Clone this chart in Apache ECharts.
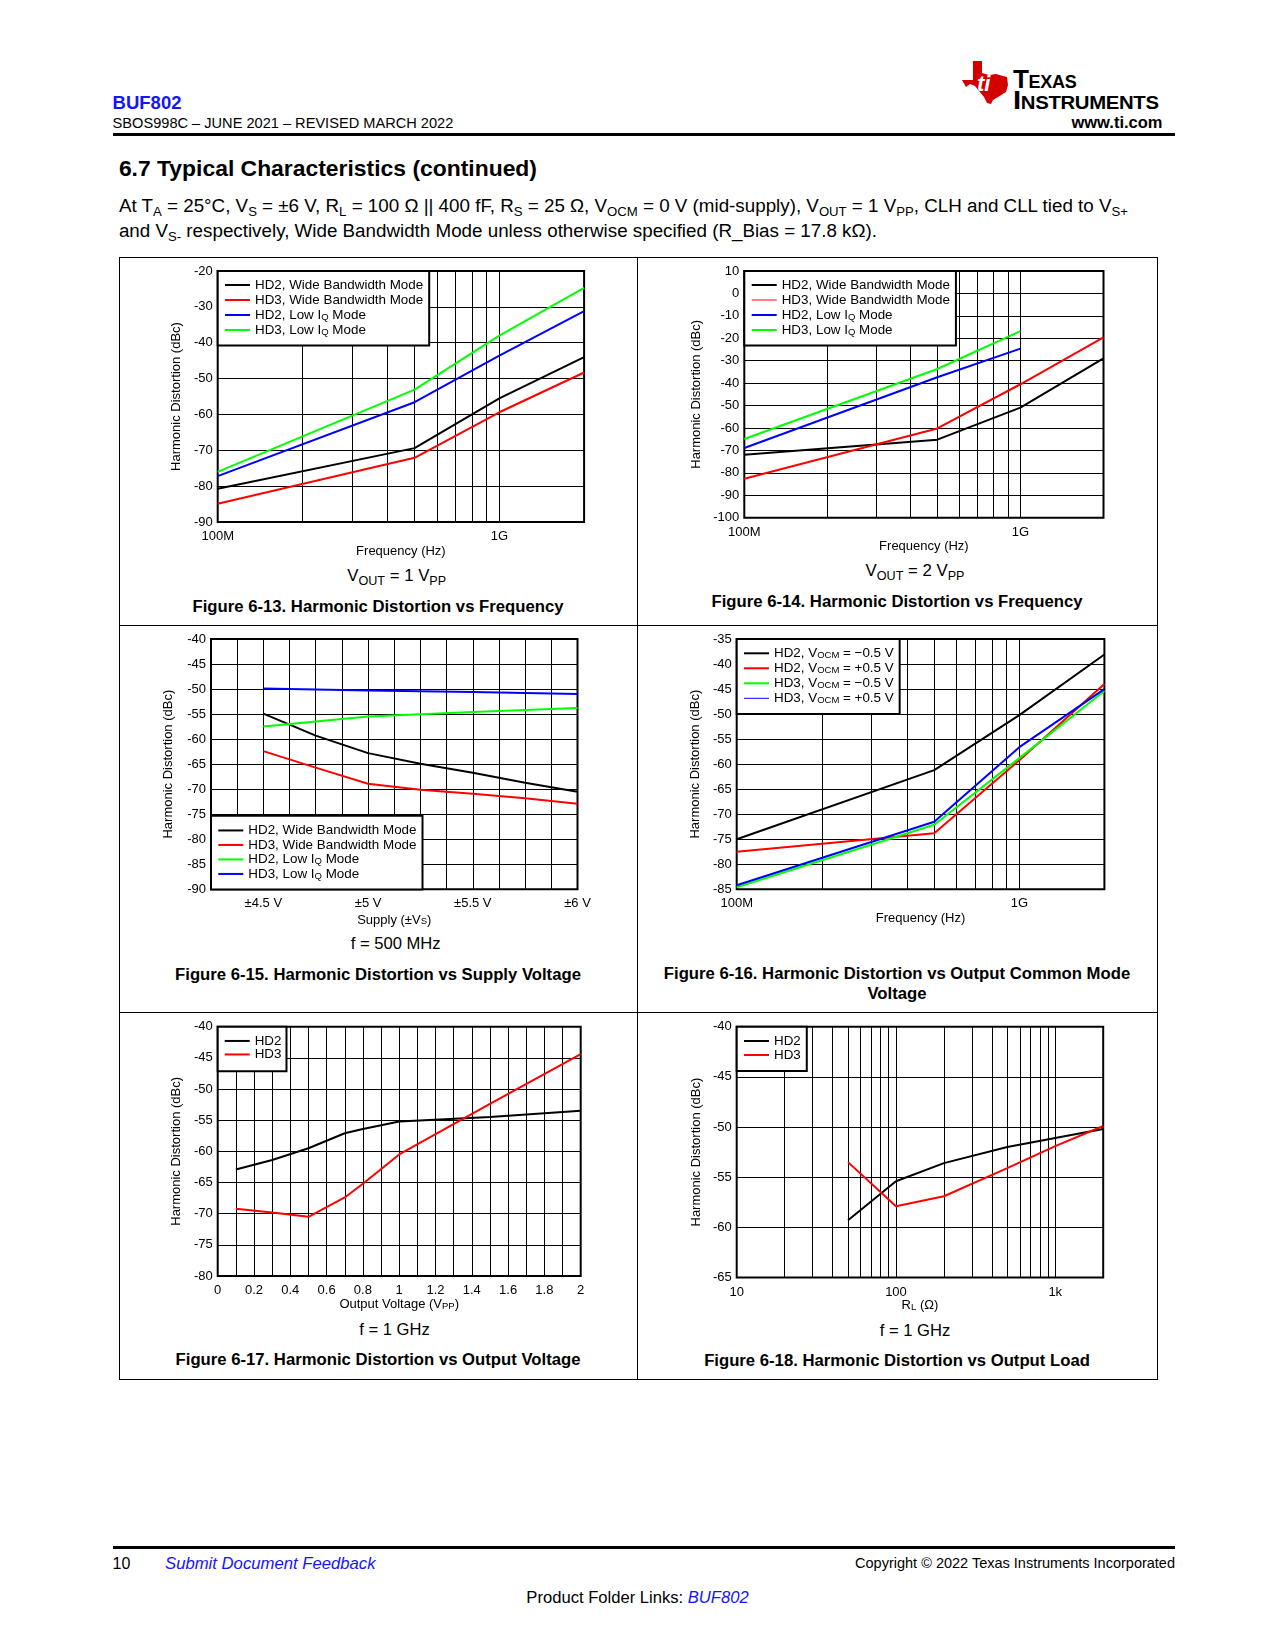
<!DOCTYPE html>
<html>
<head>
<meta charset="utf-8">
<script src="https://cdn.jsdelivr.net/npm/echarts/dist/echarts.min.js"></script>
<style>
html,body{margin:0;padding:0;background:#fff;}
body{width:1275px;height:1650px;position:relative;overflow:hidden;font-family:'Liberation Sans',Arial,Helvetica,sans-serif;color:#000;}
.t{position:absolute;white-space:nowrap;line-height:1;}
.b{font-weight:bold;}
.c{transform:translateX(-50%);}
.t sub{font-size:0.7em;vertical-align:-0.3em;line-height:0;}
.st sub{font-size:0.75em;}
.rule{position:absolute;background:#000;}
.chart{position:absolute;left:0;top:0;width:1275px;height:1650px;pointer-events:none;}
</style>
</head>
<body>
<!-- header -->
<div class="t b" style="left:112.6px;top:94px;font-size:18.5px;color:#1414ff">BUF802</div>
<div class="t" style="left:112.6px;top:116.4px;font-size:14.6px">SBOS998C – JUNE 2021 – REVISED MARCH 2022</div>
<svg style="position:absolute;left:962px;top:61px" width="46" height="43" viewBox="0 0 46 43">
  <path d="M11 0 H20 V12 L27 14 L34 13 L41 15 L45 16 L46 24 L44 31 L36 36 L31 39 L29 43 L25 42 L22 36 L17 30 L13 25 L8 23 L4 26 L0 19 L11 19 Z" fill="#d40000"/>
  <text x="15" y="30" font-family="Liberation Sans, Arial" font-weight="bold" font-style="italic" font-size="22" fill="#fff">ti</text>
</svg>
<div class="t b" style="left:1013px;top:66.3px;font-size:26px;font-variant:small-caps;letter-spacing:-0.3px">Texas</div>
<div class="t b" style="left:1013px;top:87.3px;font-size:26px;font-variant:small-caps;letter-spacing:-0.3px;transform:scaleX(1.13);transform-origin:0 50%">Instruments</div>
<div class="t b" style="right:112.5px;top:114.4px;font-size:16.5px">www.ti.com</div>
<div class="rule" style="left:112.6px;top:133px;width:1062.4px;height:3px"></div>

<div class="t b" style="left:118.9px;top:157px;font-size:22.9px">6.7 Typical Characteristics (continued)</div>
<div class="t" style="left:118.9px;top:196.8px;font-size:18.8px">At T<sub>A</sub> = 25°C, V<sub>S</sub> = ±6 V, R<sub>L</sub> = 100 Ω || 400 fF, R<sub>S</sub> = 25 Ω, V<sub>OCM</sub> = 0 V (mid-supply), V<sub>OUT</sub> = 1 V<sub>PP</sub>, CLH and CLL tied to V<sub>S+</sub></div>
<div class="t" style="left:118.9px;top:222.3px;font-size:18.8px">and V<sub>S-</sub> respectively, Wide Bandwidth Mode unless otherwise specified (R_Bias = 17.8 kΩ).</div>

<!-- figure box -->
<div style="position:absolute;left:118.9px;top:257px;width:1037.3px;height:1121px;border:1px solid #000;"></div>
<div class="rule" style="left:637px;top:257px;width:1px;height:1122px"></div>
<div class="rule" style="left:118.9px;top:625px;width:1038.3px;height:1px"></div>
<div class="rule" style="left:118.9px;top:1012px;width:1038.3px;height:1px"></div>

<!-- sub captions -->
<div class="t c st" style="left:396.7px;top:568.4px;font-size:16.8px">V<sub>OUT</sub> = 1 V<sub>PP</sub></div>
<div class="t c st" style="left:915px;top:563.4px;font-size:16.8px">V<sub>OUT</sub> = 2 V<sub>PP</sub></div>
<div class="t c st" style="left:395.7px;top:935.9px;font-size:16.6px">f = 500 MHz</div>
<div class="t c st" style="left:394.5px;top:1321.9px;font-size:16.6px">f = 1 GHz</div>
<div class="t c st" style="left:915px;top:1322.9px;font-size:16.6px">f = 1 GHz</div>

<!-- figure captions -->
<div class="t b c" style="left:378px;top:598.8px;font-size:16.7px">Figure 6-13. Harmonic Distortion vs Frequency</div>
<div class="t b c" style="left:897px;top:593.8px;font-size:16.7px">Figure 6-14. Harmonic Distortion vs Frequency</div>
<div class="t b c" style="left:378px;top:966.8px;font-size:16.7px">Figure 6-15. Harmonic Distortion vs Supply Voltage</div>
<div class="t b c" style="left:897px;top:965.8px;font-size:16.7px">Figure 6-16. Harmonic Distortion vs Output Common Mode</div>
<div class="t b c" style="left:897px;top:985.8px;font-size:16.7px">Voltage</div>
<div class="t b c" style="left:378px;top:1351.8px;font-size:16.7px">Figure 6-17. Harmonic Distortion vs Output Voltage</div>
<div class="t b c" style="left:897px;top:1352.8px;font-size:16.7px">Figure 6-18. Harmonic Distortion vs Output Load</div>

<!-- footer -->
<div class="rule" style="left:112.6px;top:1546px;width:1062.4px;height:3px"></div>
<div class="t" style="left:112.6px;top:1556.3px;font-size:16px">10</div>
<div class="t" style="left:165px;top:1556.2px;font-size:16.7px;font-style:italic;color:#1414ff">Submit Document Feedback</div>
<div class="t" style="right:100px;top:1556.3px;font-size:14.5px">Copyright © 2022 Texas Instruments Incorporated</div>
<div class="t c" style="left:637.5px;top:1589.9px;font-size:16.6px">Product Folder Links: <span style="font-style:italic;color:#1414ff">BUF802</span></div>

<script>
const FONT = "'Liberation Sans', Arial, Helvetica, sans-serif";

// ---------------- data ----------------
// Fig 6-13, VOUT = 1 VPP
const fig13Freq      = [1e8, 5e8, 1e9, 2e9];
const fig13HD2Wide   = [-80.7, -69.4, -55.5, -44.0];
const fig13HD3Wide   = [-84.9, -72.1, -59.4, -48.3];
const fig13HD2LowIQ  = [-77.2, -56.6, -43.6, -31.2];
const fig13HD3LowIQ  = [-76.0, -53.1, -38.0, -24.7];
// Fig 6-14, VOUT = 2 VPP
const fig14FreqWide  = [1e8, 5e8, 1e9, 2e9];
const fig14FreqLowIQ = [1e8, 5e8, 1e9];
const fig14HD2Wide   = [-71.9, -65.2, -50.9, -29.0];
const fig14HD3Wide   = [-82.6, -60.2, -40.5, -19.6];
const fig14HD2LowIQ  = [-68.9, -37.4, -24.6];
const fig14HD3LowIQ  = [-64.9, -33.7, -16.8];
// Fig 6-15, f = 500 MHz
const fig15SupplyWide  = [4.5, 4.75, 5.0, 5.25, 5.5, 5.75, 6.0];
const fig15HD2Wide     = [-54.9, -59.3, -62.8, -64.9, -66.7, -68.7, -70.5];
const fig15HD3Wide     = [-62.4, -65.7, -68.9, -70.1, -70.9, -71.8, -72.9];
const fig15SupplyLowIQ = [4.5, 5.0, 5.5, 6.0];
const fig15HD2LowIQ    = [-57.5, -55.5, -54.6, -53.8];
const fig15HD3LowIQ    = [-49.9, -50.3, -50.6, -51.0];
// Fig 6-16, output common mode
const fig16Freq   = [1e8, 5e8, 1e9, 2e9];
const fig16HD2Neg = [-75.0, -61.2, -50.2, -38.1];
const fig16HD2Pos = [-77.5, -73.8, -59.2, -44.0];
const fig16HD3Neg = [-84.6, -72.1, -58.8, -45.4];
const fig16HD3Pos = [-84.2, -71.5, -56.6, -45.0];
// Fig 6-17, f = 1 GHz
const fig17Vout = [0.1, 0.3, 0.5, 0.7, 0.8, 1.0, 1.5, 2.0];
const fig17HD2  = [-62.9, -61.4, -59.5, -57.1, -56.4, -55.2, -54.5, -53.5];
const fig17HD3  = [-69.2, -69.8, -70.5, -67.4, -65.2, -60.5, -52.4, -44.4];
// Fig 6-18, f = 1 GHz
const fig18Load = [50, 100, 200, 500, 1000, 2000];
const fig18HD2  = [-59.3, -55.4, -53.6, -52.0, -51.1, -50.2];
const fig18HD3  = [-53.5, -57.9, -56.9, -54.1, -51.9, -49.9];

// tick labels
const freqTickVals   = [1e8, 1e9];
const freqTickText   = ['100M', '1G'];
const freqMinorLines = [2e8, 3e8, 4e8, 5e8, 6e8, 7e8, 8e8, 9e8];
const supplyTickVals = [4.5, 5, 5.5, 6];
const supplyTickText = ['±4.5 V', '±5 V', '±5.5 V', '±6 V'];
const loadTickVals   = [10, 100, 1000];
const loadTickText   = ['10', '100', '1k'];
const loadMinorLines = [20, 30, 40, 50, 60, 70, 80, 90, 200, 300, 400, 500, 600, 700, 800, 900];

const BLACK = '#000000', RED = '#ff0000', BLUE = '#0000ff', GREEN = '#00ff00';

function logFmt(vals, texts) {
  return function (v) {
    for (let i = 0; i < vals.length; i++) {
      if (Math.abs(Math.log10(v / vals[i])) < 1e-6) return texts[i];
    }
    return '';
  };
}
function listFmt(vals, texts) {
  return function (v) {
    for (let i = 0; i < vals.length; i++) {
      if (Math.abs(v - vals[i]) < 1e-6) return texts[i];
    }
    return '';
  };
}
function voutFmt(v) {
  const r = Math.round(v * 10);
  return r % 2 === 0 ? String(r / 10) : '';
}
function richName(n) {
  return n.replace('IQ', 'I{s|Q}').replace('VOCM', 'V{s|OCM}');
}
function pairs(xs, ys) { return xs.map((x, i) => [x, ys[i]]); }

const charts = [
  { // Fig 6-13
    grid: {left: 217.7, top: 271, width: 366.4, height: 251},
    x: {type: 'log', min: 1e8, max: 2e9, fmt: logFmt(freqTickVals, freqTickText), minor: freqMinorLines, name: 'Frequency (Hz)', nameGap: 22.5},
    y: {min: -90, max: -20, interval: 10, nameGap: 34.5},
    legend: {left: 217.7, top: 271, lh: 15, pad: [6.5, 6, 8, 7.3]},
    series: [
      {name: 'HD2, Wide Bandwidth Mode', data: pairs(fig13Freq, fig13HD2Wide), color: BLACK},
      {name: 'HD3, Wide Bandwidth Mode', data: pairs(fig13Freq, fig13HD3Wide), color: RED},
      {name: 'HD2, Low IQ Mode', data: pairs(fig13Freq, fig13HD2LowIQ), color: BLUE},
      {name: 'HD3, Low IQ Mode', data: pairs(fig13Freq, fig13HD3LowIQ), color: GREEN}
    ]
  },
  { // Fig 6-14
    grid: {left: 744.3, top: 271, width: 359.2, height: 246.7},
    x: {type: 'log', min: 1e8, max: 2e9, fmt: logFmt(freqTickVals, freqTickText), minor: freqMinorLines, name: 'Frequency (Hz)', nameGap: 22.5},
    y: {min: -100, max: 10, interval: 10, nameGap: 41},
    legend: {left: 744.3, top: 271, lh: 15, pad: [6.5, 6, 8, 7.4]},
    series: [
      {name: 'HD2, Wide Bandwidth Mode', data: pairs(fig14FreqWide, fig14HD2Wide), color: BLACK},
      {name: 'HD3, Wide Bandwidth Mode', data: pairs(fig14FreqWide, fig14HD3Wide), color: RED, thin: true},
      {name: 'HD2, Low IQ Mode', data: pairs(fig14FreqLowIQ, fig14HD2LowIQ), color: BLUE},
      {name: 'HD3, Low IQ Mode', data: pairs(fig14FreqLowIQ, fig14HD3LowIQ), color: GREEN}
    ]
  },
  { // Fig 6-15
    grid: {left: 211, top: 639, width: 366.5, height: 250.3},
    x: {type: 'value', min: 4.25, max: 6, interval: 0.125, fmt: listFmt(supplyTickVals, supplyTickText), name: 'Supply (±V{s|S})', nameGap: 24.2},
    y: {min: -90, max: -40, interval: 5, nameGap: 36},
    legend: {left: 211, top: 815.7, lh: 14.5, pad: [7.5, 6, 8.4, 7.3]},
    series: [
      {name: 'HD2, Wide Bandwidth Mode', data: pairs(fig15SupplyWide, fig15HD2Wide), color: BLACK},
      {name: 'HD3, Wide Bandwidth Mode', data: pairs(fig15SupplyWide, fig15HD3Wide), color: RED},
      {name: 'HD2, Low IQ Mode', data: pairs(fig15SupplyLowIQ, fig15HD2LowIQ), color: GREEN},
      {name: 'HD3, Low IQ Mode', data: pairs(fig15SupplyLowIQ, fig15HD3LowIQ), color: BLUE}
    ]
  },
  { // Fig 6-16
    grid: {left: 736.7, top: 639, width: 367.7, height: 250.3},
    x: {type: 'log', min: 1e8, max: 2e9, fmt: logFmt(freqTickVals, freqTickText), minor: freqMinorLines, name: 'Frequency (Hz)', nameGap: 22.5},
    y: {min: -85, max: -35, interval: 5, nameGap: 35},
    legend: {left: 736.7, top: 639, lh: 15, pad: [6.8, 6, 8.2, 7.3]},
    series: [
      {name: 'HD2, VOCM = \u22120.5 V', data: pairs(fig16Freq, fig16HD2Neg), color: BLACK},
      {name: 'HD2, VOCM = +0.5 V', data: pairs(fig16Freq, fig16HD2Pos), color: RED},
      {name: 'HD3, VOCM = \u22120.5 V', data: pairs(fig16Freq, fig16HD3Neg), color: GREEN},
      {name: 'HD3, VOCM = +0.5 V', data: pairs(fig16Freq, fig16HD3Pos), color: BLUE, thin: true}
    ]
  },
  { // Fig 6-17
    grid: {left: 217.7, top: 1026.7, width: 363, height: 249.3},
    x: {type: 'value', min: 0, max: 2, interval: 0.1, fmt: voutFmt, name: 'Output Voltage (V{s|PP})', nameGap: 21.5},
    y: {min: -80, max: -40, interval: 5, nameGap: 35},
    legend: {left: 217.7, top: 1026.7, lh: 13.5, pad: [7.5, 5, 10, 7]},
    series: [
      {name: 'HD2', data: pairs(fig17Vout, fig17HD2), color: BLACK},
      {name: 'HD3', data: pairs(fig17Vout, fig17HD3), color: RED}
    ]
  },
  { // Fig 6-18
    grid: {left: 736.7, top: 1026.7, width: 366.5, height: 250.8},
    x: {type: 'log', min: 10, max: 2000, fmt: logFmt(loadTickVals, loadTickText), minor: loadMinorLines, name: 'R{s|L} (Ω)', nameGap: 21.5},
    y: {min: -65, max: -40, interval: 5, nameGap: 33.5},
    legend: {left: 736.7, top: 1026.7, lh: 14, pad: [7.3, 6, 9, 7.3]},
    series: [
      {name: 'HD2', data: pairs(fig18Load, fig18HD2), color: BLACK},
      {name: 'HD3', data: pairs(fig18Load, fig18HD3), color: RED}
    ]
  }
];

function buildOption(c) {
  const subStyle = {fontSize: 9.5, verticalAlign: 'bottom', fontFamily: FONT, color: '#000'};
  const xAxis = {
    type: c.x.type, min: c.x.min, max: c.x.max,
    axisLine: {show: false}, axisTick: {show: false},
    splitLine: {show: true, lineStyle: {color: '#000', width: 1, type: 'solid'}},
    axisLabel: {color: '#000', fontSize: 13, margin: 8, fontFamily: FONT, formatter: c.x.fmt},
    name: c.x.name, nameLocation: 'middle', nameGap: c.x.nameGap,
    nameTextStyle: {color: '#000', fontSize: 13, fontFamily: FONT, rich: {s: subStyle}}
  };
  if (c.x.type === 'log') xAxis.logBase = 10; else xAxis.interval = c.x.interval;
  const yAxis = {
    type: 'value', min: c.y.min, max: c.y.max, interval: c.y.interval,
    axisLine: {show: false}, axisTick: {show: false},
    splitLine: {show: true, lineStyle: {color: '#000', width: 1, type: 'solid'}},
    axisLabel: {color: '#000', fontSize: 13, margin: 5, fontFamily: FONT},
    name: 'Harmonic Distortion (dBc)', nameLocation: 'middle', nameGap: c.y.nameGap,
    nameTextStyle: {color: '#000', fontSize: 13, fontFamily: FONT}
  };
  const series = [];
  if (c.x.minor) {
    series.push({
      type: 'line', data: [], silent: true, z: 1, animation: false,
      markLine: {
        z: 1, silent: true, symbol: ['none', 'none'], label: {show: false}, animation: false,
        lineStyle: {color: '#000', width: 1, type: 'solid'},
        emphasis: {disabled: true},
        data: c.x.minor.map(v => ({xAxis: v}))
      }
    });
  }
  c.series.forEach(s => {
    series.push({
      type: 'line', name: s.name, data: s.data, z: 2,
      showSymbol: false, symbol: 'none', silent: true, animation: false,
      color: s.color,
      lineStyle: {color: s.color, width: 2},
      itemStyle: {color: s.color},
      emphasis: {disabled: true}
    });
  });
  return {
    animation: false,
    textStyle: {fontFamily: FONT},
    grid: Object.assign({show: true, borderColor: '#000', borderWidth: 2, backgroundColor: 'transparent', containLabel: false, outerBoundsMode: 'none'}, c.grid),
    xAxis: xAxis,
    yAxis: yAxis,
    legend: {
      show: true, orient: 'vertical', left: c.legend.left, top: c.legend.top,
      padding: c.legend.pad, itemGap: 0, itemWidth: 25, itemHeight: 2,
      backgroundColor: '#fff', borderColor: '#000', borderWidth: 2, borderRadius: 0,
      selectedMode: false, z: 10,
      textStyle: {fontSize: 13.4, color: '#000', fontFamily: FONT, lineHeight: c.legend.lh,
        rich: {s: {fontSize: 9.5, verticalAlign: 'bottom', fontFamily: FONT, color: '#000', lineHeight: c.legend.lh}}},
      formatter: richName,
      data: c.series.map(s => ({name: s.name, icon: s.thin ? 'path://M0,0H25V1H0Z' : 'rect'}))
    },
    series: series
  };
}

charts.forEach(c => {
  const div = document.createElement('div');
  div.className = 'chart';
  document.body.appendChild(div);
  const inst = echarts.init(div, null, {renderer: 'canvas', width: 1275, height: 1650});
  inst.setOption(buildOption(c));
});
</script>
</body>
</html>
